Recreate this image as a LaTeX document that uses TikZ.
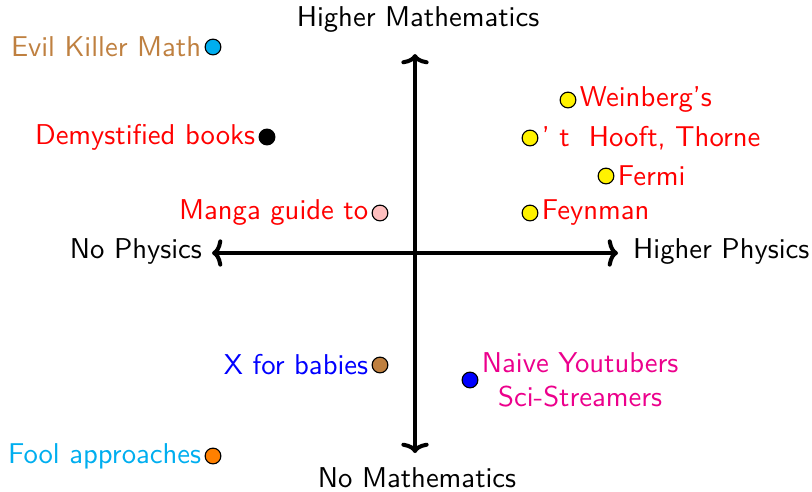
\documentclass[tikz,border=0pt]{standalone}
\usepackage{tikz}
\usetikzlibrary{arrows.meta}
\definecolor{cyanc}{RGB}{0,174,239}
\definecolor{magentac}{RGB}{236,0,140}
\definecolor{brownc}{RGB}{191,128,64}
\definecolor{orangec}{RGB}{255,128,0}
\definecolor{pinkc}{RGB}{255,191,191}
\begin{document}
\begin{tikzpicture}[x=0.349pt,y=-0.349pt,font=\sffamily,
  dot/.style={circle,draw=black,line width=0.4pt,inner sep=0pt,minimum size=5.5pt},
  axisline/.style={line width=1.4pt,-{To[width=9.5pt,length=3.6pt]}},
  lbl/.style={inner sep=1pt}]
\useasboundingbox (0,0) rectangle (812,491);
% axes
\coordinate (o) at (415,253);
\coordinate (top) at (415,54);
\coordinate (bot) at (415,453);
\coordinate (lft) at (212,253);
\coordinate (rgt) at (618,253);
\draw[axisline] (o) -- (top);
\draw[axisline] (o) -- (bot);
\draw[axisline] (o) -- (lft);
\draw[axisline] (o) -- (rgt);
\node (hm) at (418,20) {Higher Mathematics};
\node (nm) at (417,478) {No Mathematics};
\node[anchor=east] (np) at (212,251) {No Physics};
\node[anchor=west] (hp) at (623,251) {Higher Physics};
% points
\node[dot,fill=cyanc] (d1) at (213,47) {};
\node[lbl,anchor=east,text=brownc] (t1) at (d1.west) {Evil Killer Math};
\node[dot,fill=black] (d2) at (267,137) {};
\node[lbl,anchor=east,text=red] (t2) at (d2.west) {Demystified books};
\node[dot,fill=pinkc] (d3) at (380,213) {};
\node[lbl,anchor=east,text=red] (t3) at (d3.west) {Manga guide to};
\node[dot,fill=yellow] (d4) at (568,100) {};
\node[lbl,anchor=west,text=red] (t4) at (d4.east) {Weinberg's};
\node[dot,fill=yellow] (d5) at (530,138) {};
\node[lbl,anchor=west,text=red] (t5) at (d5.east) {' t\ \ Hooft, Thorne};
\node[dot,fill=yellow] (d6) at (606,176) {};
\node[lbl,anchor=west,text=red] (t6) at (d6.east) {Fermi};
\node[dot,fill=yellow] (d7) at (530,213) {};
\node[lbl,anchor=west,text=red] (t7) at (d7.east) {Feynman};
\node[dot,fill=brownc] (d8) at (380,365) {};
\node[lbl,anchor=east,text=blue] (t8) at (d8.west) {X for babies};
\node[dot,fill=blue] (d9) at (470,380) {};
\node[lbl,anchor=west,text=magentac,align=center] (t9) at (d9.east) {Naive Youtubers\\Sci-Streamers};
\node[dot,fill=orangec] (d10) at (213,456) {};
\node[lbl,anchor=east,text=cyanc] (t10) at (d10.west) {Fool approaches};
\end{tikzpicture}
\end{document}
